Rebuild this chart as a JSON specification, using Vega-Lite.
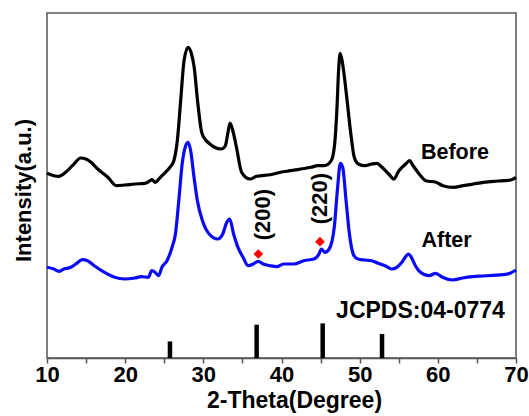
{
  "$schema": "https://vega.github.io/schema/vega-lite/v6.json",
  "width": 469,
  "height": 345,
  "autosize": {"type": "none"},
  "padding": {"left": 47, "top": 13, "right": 13, "bottom": 58},
  "background": "white",
  "config": {
    "view": {"stroke": "#555555", "strokeWidth": 1.5},
    "font": "Liberation Sans",
    "axis": {"grid": false}
  },
  "datasets": {
    "xrd": [
      {"theta": 10.00, "intensity": 184.7, "sample": "Before"},
      {"theta": 10.87, "intensity": 182.3, "sample": "Before"},
      {"theta": 11.52, "intensity": 181.7, "sample": "Before"},
      {"theta": 12.38, "intensity": 185.7, "sample": "Before"},
      {"theta": 13.25, "intensity": 192.3, "sample": "Before"},
      {"theta": 14.33, "intensity": 200.0, "sample": "Before"},
      {"theta": 14.98, "intensity": 199.0, "sample": "Before"},
      {"theta": 15.63, "intensity": 195.7, "sample": "Before"},
      {"theta": 16.49, "intensity": 189.0, "sample": "Before"},
      {"theta": 17.79, "intensity": 180.7, "sample": "Before"},
      {"theta": 18.87, "intensity": 172.3, "sample": "Before"},
      {"theta": 19.96, "intensity": 173.0, "sample": "Before"},
      {"theta": 21.26, "intensity": 174.0, "sample": "Before"},
      {"theta": 22.55, "intensity": 174.7, "sample": "Before"},
      {"theta": 23.20, "intensity": 177.3, "sample": "Before"},
      {"theta": 23.42, "intensity": 178.3, "sample": "Before"},
      {"theta": 23.85, "intensity": 175.7, "sample": "Before"},
      {"theta": 24.50, "intensity": 180.7, "sample": "Before"},
      {"theta": 25.15, "intensity": 185.7, "sample": "Before"},
      {"theta": 25.80, "intensity": 191.3, "sample": "Before"},
      {"theta": 26.23, "intensity": 197.3, "sample": "Before"},
      {"theta": 26.67, "intensity": 217.3, "sample": "Before"},
      {"theta": 27.10, "intensity": 257.3, "sample": "Before"},
      {"theta": 27.53, "intensity": 297.3, "sample": "Before"},
      {"theta": 28.05, "intensity": 310.7, "sample": "Before"},
      {"theta": 28.45, "intensity": 305.0, "sample": "Before"},
      {"theta": 28.83, "intensity": 290.7, "sample": "Before"},
      {"theta": 29.26, "intensity": 257.3, "sample": "Before"},
      {"theta": 29.79, "intensity": 225.7, "sample": "Before"},
      {"theta": 30.30, "intensity": 218.0, "sample": "Before"},
      {"theta": 30.85, "intensity": 214.0, "sample": "Before"},
      {"theta": 31.43, "intensity": 210.7, "sample": "Before"},
      {"theta": 32.30, "intensity": 209.0, "sample": "Before"},
      {"theta": 32.80, "intensity": 212.0, "sample": "Before"},
      {"theta": 33.16, "intensity": 226.0, "sample": "Before"},
      {"theta": 33.41, "intensity": 235.0, "sample": "Before"},
      {"theta": 33.75, "intensity": 228.0, "sample": "Before"},
      {"theta": 34.24, "intensity": 210.7, "sample": "Before"},
      {"theta": 34.90, "intensity": 185.7, "sample": "Before"},
      {"theta": 35.97, "intensity": 179.0, "sample": "Before"},
      {"theta": 36.84, "intensity": 181.7, "sample": "Before"},
      {"theta": 38.57, "intensity": 183.3, "sample": "Before"},
      {"theta": 39.87, "intensity": 185.7, "sample": "Before"},
      {"theta": 41.17, "intensity": 187.3, "sample": "Before"},
      {"theta": 42.47, "intensity": 189.0, "sample": "Before"},
      {"theta": 43.77, "intensity": 190.7, "sample": "Before"},
      {"theta": 44.63, "intensity": 192.3, "sample": "Before"},
      {"theta": 45.50, "intensity": 192.3, "sample": "Before"},
      {"theta": 46.36, "intensity": 197.3, "sample": "Before"},
      {"theta": 46.80, "intensity": 214.0, "sample": "Before"},
      {"theta": 47.10, "intensity": 250.7, "sample": "Before"},
      {"theta": 47.30, "intensity": 287.0, "sample": "Before"},
      {"theta": 47.50, "intensity": 304.7, "sample": "Before"},
      {"theta": 47.80, "intensity": 295.0, "sample": "Before"},
      {"theta": 48.30, "intensity": 264.0, "sample": "Before"},
      {"theta": 48.87, "intensity": 224.0, "sample": "Before"},
      {"theta": 49.31, "intensity": 200.7, "sample": "Before"},
      {"theta": 49.83, "intensity": 194.0, "sample": "Before"},
      {"theta": 50.69, "intensity": 192.3, "sample": "Before"},
      {"theta": 51.56, "intensity": 194.0, "sample": "Before"},
      {"theta": 52.21, "intensity": 194.7, "sample": "Before"},
      {"theta": 52.86, "intensity": 190.7, "sample": "Before"},
      {"theta": 53.72, "intensity": 184.0, "sample": "Before"},
      {"theta": 54.37, "intensity": 179.0, "sample": "Before"},
      {"theta": 55.02, "intensity": 187.3, "sample": "Before"},
      {"theta": 55.89, "intensity": 194.0, "sample": "Before"},
      {"theta": 56.38, "intensity": 197.3, "sample": "Before"},
      {"theta": 56.84, "intensity": 192.3, "sample": "Before"},
      {"theta": 57.62, "intensity": 184.0, "sample": "Before"},
      {"theta": 58.48, "intensity": 177.3, "sample": "Before"},
      {"theta": 59.78, "intensity": 175.7, "sample": "Before"},
      {"theta": 60.65, "intensity": 172.3, "sample": "Before"},
      {"theta": 61.95, "intensity": 170.7, "sample": "Before"},
      {"theta": 63.25, "intensity": 172.3, "sample": "Before"},
      {"theta": 64.55, "intensity": 174.0, "sample": "Before"},
      {"theta": 65.84, "intensity": 175.7, "sample": "Before"},
      {"theta": 67.14, "intensity": 176.7, "sample": "Before"},
      {"theta": 68.44, "intensity": 177.3, "sample": "Before"},
      {"theta": 69.31, "intensity": 178.0, "sample": "Before"},
      {"theta": 70.00, "intensity": 180.7, "sample": "Before"},
      {"theta": 10.00, "intensity": 90.7, "sample": "After"},
      {"theta": 10.87, "intensity": 89.0, "sample": "After"},
      {"theta": 11.52, "intensity": 86.7, "sample": "After"},
      {"theta": 12.16, "intensity": 89.0, "sample": "After"},
      {"theta": 13.03, "intensity": 90.7, "sample": "After"},
      {"theta": 13.68, "intensity": 94.0, "sample": "After"},
      {"theta": 14.54, "intensity": 98.3, "sample": "After"},
      {"theta": 15.19, "intensity": 97.3, "sample": "After"},
      {"theta": 16.05, "intensity": 92.3, "sample": "After"},
      {"theta": 17.35, "intensity": 85.7, "sample": "After"},
      {"theta": 18.65, "intensity": 80.7, "sample": "After"},
      {"theta": 19.94, "intensity": 79.0, "sample": "After"},
      {"theta": 21.24, "intensity": 80.0, "sample": "After"},
      {"theta": 22.10, "intensity": 81.3, "sample": "After"},
      {"theta": 22.97, "intensity": 80.7, "sample": "After"},
      {"theta": 23.40, "intensity": 87.3, "sample": "After"},
      {"theta": 23.83, "intensity": 85.7, "sample": "After"},
      {"theta": 24.27, "intensity": 82.3, "sample": "After"},
      {"theta": 24.70, "intensity": 90.7, "sample": "After"},
      {"theta": 25.35, "intensity": 97.3, "sample": "After"},
      {"theta": 26.00, "intensity": 110.7, "sample": "After"},
      {"theta": 26.43, "intensity": 124.0, "sample": "After"},
      {"theta": 26.86, "intensity": 157.3, "sample": "After"},
      {"theta": 27.29, "intensity": 194.0, "sample": "After"},
      {"theta": 27.73, "intensity": 212.0, "sample": "After"},
      {"theta": 28.05, "intensity": 215.7, "sample": "After"},
      {"theta": 28.38, "intensity": 207.3, "sample": "After"},
      {"theta": 28.81, "intensity": 180.7, "sample": "After"},
      {"theta": 29.24, "intensity": 157.3, "sample": "After"},
      {"theta": 29.89, "intensity": 137.3, "sample": "After"},
      {"theta": 30.75, "intensity": 124.0, "sample": "After"},
      {"theta": 31.84, "intensity": 119.0, "sample": "After"},
      {"theta": 32.48, "intensity": 124.0, "sample": "After"},
      {"theta": 33.00, "intensity": 135.7, "sample": "After"},
      {"theta": 33.38, "intensity": 139.0, "sample": "After"},
      {"theta": 33.87, "intensity": 124.0, "sample": "After"},
      {"theta": 34.43, "intensity": 110.7, "sample": "After"},
      {"theta": 35.08, "intensity": 100.7, "sample": "After"},
      {"theta": 35.73, "intensity": 92.3, "sample": "After"},
      {"theta": 36.38, "intensity": 94.0, "sample": "After"},
      {"theta": 37.02, "intensity": 96.7, "sample": "After"},
      {"theta": 37.67, "intensity": 94.0, "sample": "After"},
      {"theta": 38.54, "intensity": 92.3, "sample": "After"},
      {"theta": 39.40, "intensity": 91.3, "sample": "After"},
      {"theta": 40.27, "intensity": 94.0, "sample": "After"},
      {"theta": 41.56, "intensity": 94.0, "sample": "After"},
      {"theta": 42.86, "intensity": 97.3, "sample": "After"},
      {"theta": 44.15, "intensity": 99.0, "sample": "After"},
      {"theta": 44.80, "intensity": 104.0, "sample": "After"},
      {"theta": 45.10, "intensity": 109.0, "sample": "After"},
      {"theta": 45.54, "intensity": 105.7, "sample": "After"},
      {"theta": 46.10, "intensity": 109.0, "sample": "After"},
      {"theta": 46.75, "intensity": 130.7, "sample": "After"},
      {"theta": 47.18, "intensity": 170.7, "sample": "After"},
      {"theta": 47.53, "intensity": 194.7, "sample": "After"},
      {"theta": 47.83, "intensity": 190.7, "sample": "After"},
      {"theta": 48.26, "intensity": 157.3, "sample": "After"},
      {"theta": 48.69, "intensity": 124.0, "sample": "After"},
      {"theta": 49.26, "intensity": 102.3, "sample": "After"},
      {"theta": 49.78, "intensity": 99.0, "sample": "After"},
      {"theta": 50.64, "intensity": 98.0, "sample": "After"},
      {"theta": 51.51, "intensity": 97.3, "sample": "After"},
      {"theta": 52.37, "intensity": 94.7, "sample": "After"},
      {"theta": 53.24, "intensity": 92.3, "sample": "After"},
      {"theta": 54.10, "intensity": 89.0, "sample": "After"},
      {"theta": 54.75, "intensity": 90.7, "sample": "After"},
      {"theta": 55.40, "intensity": 95.7, "sample": "After"},
      {"theta": 55.83, "intensity": 100.7, "sample": "After"},
      {"theta": 56.22, "intensity": 104.0, "sample": "After"},
      {"theta": 56.61, "intensity": 100.7, "sample": "After"},
      {"theta": 57.13, "intensity": 92.3, "sample": "After"},
      {"theta": 57.78, "intensity": 85.7, "sample": "After"},
      {"theta": 58.86, "intensity": 82.3, "sample": "After"},
      {"theta": 59.73, "intensity": 84.7, "sample": "After"},
      {"theta": 60.59, "intensity": 80.7, "sample": "After"},
      {"theta": 61.89, "intensity": 78.0, "sample": "After"},
      {"theta": 63.18, "intensity": 80.0, "sample": "After"},
      {"theta": 64.48, "intensity": 81.3, "sample": "After"},
      {"theta": 65.78, "intensity": 82.0, "sample": "After"},
      {"theta": 67.07, "intensity": 82.7, "sample": "After"},
      {"theta": 68.37, "intensity": 83.3, "sample": "After"},
      {"theta": 69.23, "intensity": 84.7, "sample": "After"},
      {"theta": 70.00, "intensity": 88.0, "sample": "After"}
    ],
    "ref": [
      {"theta": 25.73, "intensity": 16.6},
      {"theta": 36.82, "intensity": 33.3},
      {"theta": 45.27, "intensity": 34.6},
      {"theta": 52.86, "intensity": 24.0}
    ],
    "peaks": [
      {"theta": 37.03, "intensity": 104.0, "plane": "(200)", "labelTheta": 37.6, "labelY": 143.3},
      {"theta": 44.92, "intensity": 116.3, "plane": "(220)", "labelTheta": 44.92, "labelY": 159.3}
    ],
    "labels": [
      {"text": "Before", "theta": 62.19, "intensity": 205.3, "size": "m"},
      {"text": "After", "theta": 61.12, "intensity": 116.6, "size": "m"},
      {"text": "JCPDS:04-0774", "theta": 57.78, "intensity": 47.3, "size": "l"}
    ]
  },
  "encoding": {
    "x": {
      "field": "theta", "type": "quantitative",
      "scale": {"domain": [10, 70], "nice": false, "zero": false},
      "axis": {
        "title": "2-Theta(Degree)",
        "values": [10, 15, 20, 25, 30, 35, 40, 45, 50, 55, 60, 65, 70],
        "labelExpr": "datum.value % 10 == 0 ? datum.label : ''",
        "labelFont": "Liberation Sans", "labelFontSize": 22, "labelFontWeight": "bold", "labelColor": "black",
        "labelPadding": 1, "labelFlush": false, "labelOverlap": false,
        "titleFont": "Liberation Sans", "titleFontSize": 23, "titleFontWeight": "bold", "titleColor": "black",
        "titlePadding": 4, "titleX": 247,
        "tickSize": 5, "tickColor": "#555555", "tickWidth": 1.5,
        "domainColor": "#555555", "domainWidth": 1.5
      }
    },
    "y": {
      "field": "intensity", "type": "quantitative",
      "scale": {"domain": [0, 345], "nice": false, "zero": false},
      "axis": {
        "title": "Intensity(a.u.)",
        "labels": false, "ticks": false, "domain": false,
        "titleFont": "Liberation Sans", "titleFontSize": 22, "titleFontWeight": "bold", "titleColor": "black",
        "titlePadding": 12, "titleY": 177
      }
    }
  },
  "layer": [
    {
      "data": {"name": "xrd"},
      "mark": {"type": "line", "strokeWidth": 3.2, "interpolate": "monotone"},
      "encoding": {
        "color": {"field": "sample", "type": "nominal", "scale": {"domain": ["Before", "After"], "range": ["#000000", "#0a0af5"]}, "legend": null},
        "detail": {"field": "sample"}
      }
    },
    {
      "data": {"name": "ref"},
      "mark": {"type": "rule", "strokeWidth": 4.5, "color": "black", "strokeCap": "butt"},
      "encoding": {"y": {"datum": 0}, "y2": {"field": "intensity"}}
    },
    {
      "data": {"name": "peaks"},
      "mark": {"type": "point", "shape": "diamond", "filled": true, "color": "#ff0000", "size": 95, "opacity": 1},
      "encoding": {}
    },
    {
      "data": {"name": "peaks"},
      "mark": {"type": "text", "angle": 270, "font": "Liberation Sans", "fontSize": 22, "fontWeight": "bold", "color": "black", "align": "center", "baseline": "middle"},
      "encoding": {
        "x": {"field": "labelTheta", "type": "quantitative"},
        "y": {"field": "labelY", "type": "quantitative"},
        "text": {"field": "plane"}
      }
    },
    {
      "data": {"name": "labels"},
      "mark": {"type": "text", "font": "Liberation Sans", "fontWeight": "bold", "color": "black", "align": "center", "baseline": "middle"},
      "encoding": {
        "text": {"field": "text"},
        "size": {"field": "size", "type": "nominal", "scale": {"domain": ["m", "l"], "range": [21.5, 23]}, "legend": null}
      }
    }
  ]
}
